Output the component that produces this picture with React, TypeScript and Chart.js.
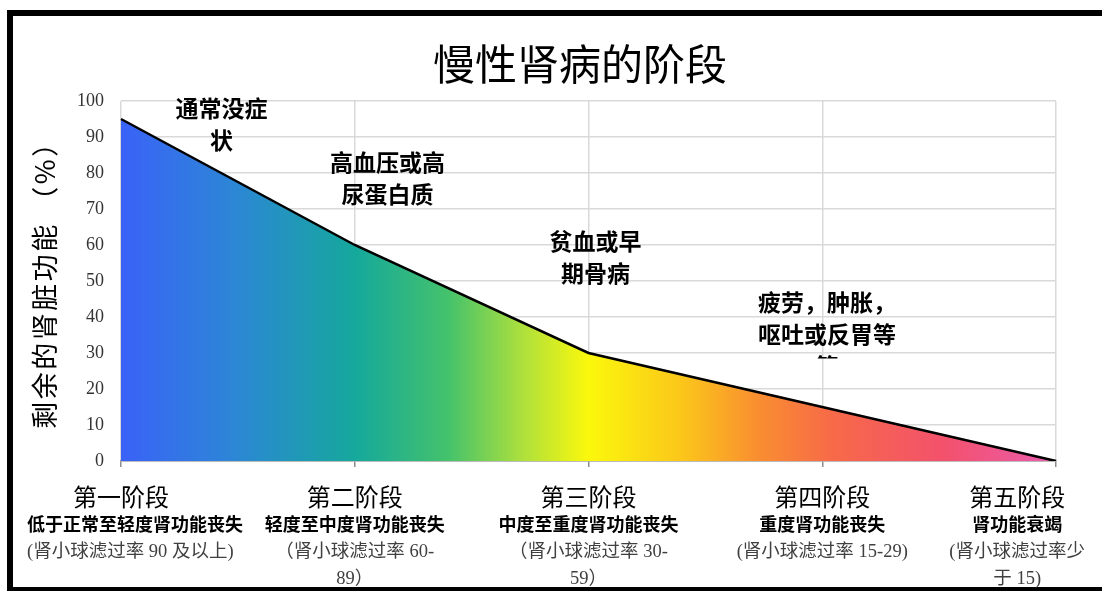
import { useEffect, useRef } from 'react';
import { Chart, registerables } from 'chart.js';

Chart.register(...registerables);

// ---- data ----
const stageNames = ['第一阶段', '第二阶段', '第三阶段', '第四阶段', '第五阶段'];
const stageDescriptions = [
  '低于正常至轻度肾功能丧失',
  '轻度至中度肾功能丧失',
  '中度至重度肾功能丧失',
  '重度肾功能丧失',
  '肾功能衰竭',
];
const gfrNotes = [
  ['(肾小球滤过率 90 及以上)'],
  ['（肾小球滤过率 60-', '89）'],
  ['（肾小球滤过率 30-', '59）'],
  ['(肾小球滤过率 15-29)'],
  ['(肾小球滤过率少', '于 15)'],
];
const remainingFunction = [95, 60, 30, 15, 0];
const symptomTexts = [
  ['通常没症', '状'],
  ['高血压或高', '尿蛋白质'],
  ['贫血或早', '期骨病'],
  ['疲劳，肿胀，', '呕吐或反胃等', '等'],
];
const chartTitle = '慢性肾病的阶段';
const yAxisTitle = '剩余的肾脏功能 （%）';

// ---- layout of annotations (category index, value of first line, clip value) ----
const symptomAnchors = [
  { x: 0.43, y: 98, clip: null as number | null },
  { x: 1.14, y: 83, clip: null as number | null },
  { x: 2.03, y: 61, clip: null as number | null },
  { x: 3.02, y: 44, clip: 28.5 as number | null },
];

const CJK = '"Noto Sans CJK SC", "Noto Sans", sans-serif';
const SERIF_CJK = '"Liberation Serif", "Noto Sans CJK SC", serif';

const textPlugin = {
  id: 'ckdText',
  afterDraw(chart: any) {
    const { ctx, scales, chartArea } = chart;
    const x = scales.x;
    const y = scales.y;
    ctx.save();

    // frame
    ctx.strokeStyle = '#000';
    ctx.lineWidth = 6;
    ctx.strokeRect(10, 13, 1200, 577);

    // title
    ctx.fillStyle = '#000';
    ctx.textAlign = 'center';
    ctx.textBaseline = 'middle';
    ctx.font = `42px ${CJK}`;
    ctx.fillText(chartTitle, 580, 64);

    // y axis title
    ctx.save();
    ctx.translate(45, 278);
    ctx.rotate(-Math.PI / 2);
    ctx.font = `27px ${CJK}`;
    (ctx as any).letterSpacing = '2.5px';
    ctx.fillText(yAxisTitle, 0, 0);
    ctx.restore();

    // stage labels
    const left = 27;
    const right = 1085;
    const b = chartArea.bottom;
    stageNames.forEach((name, i) => {
      const tx = x.getPixelForValue(i);
      const lines = [
        { text: name, font: `24px ${CJK}`, color: '#000', y: b + 36 },
        { text: stageDescriptions[i], font: `bold 18px ${CJK}`, color: '#000', y: b + 63 },
        ...gfrNotes[i].map((t, j) => ({ text: t, font: `18.5px ${SERIF_CJK}`, color: '#404040', y: b + 91 + j * 27 })),
      ];
      const widths = lines.map((l) => {
        ctx.font = l.font;
        return ctx.measureText(l.text).width;
      });
      const blockW = Math.max(...widths);
      const base = Math.min(tx, right - blockW / 2);
      lines.forEach((l, k) => {
        const cx = Math.max(base, left + widths[k] / 2);
        ctx.font = l.font;
        ctx.fillStyle = l.color;
        ctx.fillText(l.text, cx, l.y);
      });
    });

    // symptom annotations
    ctx.font = `bold 23px ${CJK}`;
    ctx.fillStyle = '#000';
    symptomTexts.forEach((lines, i) => {
      const a = symptomAnchors[i];
      const cx = x.getPixelForValue(a.x);
      const y0 = y.getPixelForValue(a.y);
      ctx.save();
      if (a.clip !== null) {
        const cy = y.getPixelForValue(a.clip);
        ctx.beginPath();
        ctx.rect(0, 0, 1102, cy);
        ctx.clip();
      }
      lines.forEach((t, j) => {
        ctx.fillText(t, cx, y0 + j * 32);
      });
      ctx.restore();
    });

    ctx.restore();
  },
};

export default function App() {
  const ref = useRef<HTMLCanvasElement | null>(null);

  useEffect(() => {
    if (!ref.current) return;
    const chart = new Chart(ref.current, {
      type: 'line',
      data: {
        labels: stageNames,
        datasets: [
          {
            data: remainingFunction,
            borderColor: '#000',
            borderWidth: 2.5,
            pointRadius: 0,
            tension: 0,
            fill: 'origin',
            backgroundColor: (c: any) => {
              const area = c.chart.chartArea;
              if (!area) return '#3a62f8';
              const g = c.chart.ctx.createLinearGradient(area.left, 0, area.right, 0);
              g.addColorStop(0, '#3a62f8');
              g.addColorStop(0.12, '#2c86d6');
              g.addColorStop(0.25, '#15a89c');
              g.addColorStop(0.35, '#44c26c');
              g.addColorStop(0.43, '#aee03c');
              g.addColorStop(0.5, '#fbf80c');
              g.addColorStop(0.6, '#fbc61a');
              g.addColorStop(0.68, '#f98f30');
              g.addColorStop(0.76, '#f76a48');
              g.addColorStop(0.88, '#f3516c');
              g.addColorStop(1, '#ea5cae');
              return g;
            },
          },
        ],
      },
      options: {
        animation: false,
        responsive: false,
        maintainAspectRatio: false,
        layout: { padding: { left: 0, right: 46, top: 101, bottom: 0 } },
        plugins: {
          legend: { display: false },
          tooltip: { enabled: false },
          title: { display: false },
        },
        scales: {
          x: {
            type: 'category',
            offset: false,
            grid: { color: '#d9d9d9', lineWidth: 1.5, tickLength: 6, tickColor: '#8c8c8c' },
            border: { color: '#8c8c8c', width: 1.5 },
            ticks: { display: false },
            afterFit: (s: any) => {
              s.height = 130;
            },
          },
          y: {
            min: 0,
            max: 100,
            ticks: {
              stepSize: 10,
              padding: 17,
              color: '#333333',
              font: { family: '"Liberation Serif", serif', size: 18 },
            },
            grid: { color: '#d9d9d9', lineWidth: 1.5, drawTicks: false },
            border: { display: false },
            afterFit: (s: any) => {
              s.width = 121;
            },
          },
        },
      },
      plugins: [textPlugin],
    } as any);
    return () => chart.destroy();
  }, []);

  return (
    <div style={{ position: 'fixed', left: 0, top: 0, width: 1102, height: 591, background: '#fff' }}>
      <canvas ref={ref} width={1102} height={591} style={{ display: 'block', width: 1102, height: 591 }} />
    </div>
  );
}
